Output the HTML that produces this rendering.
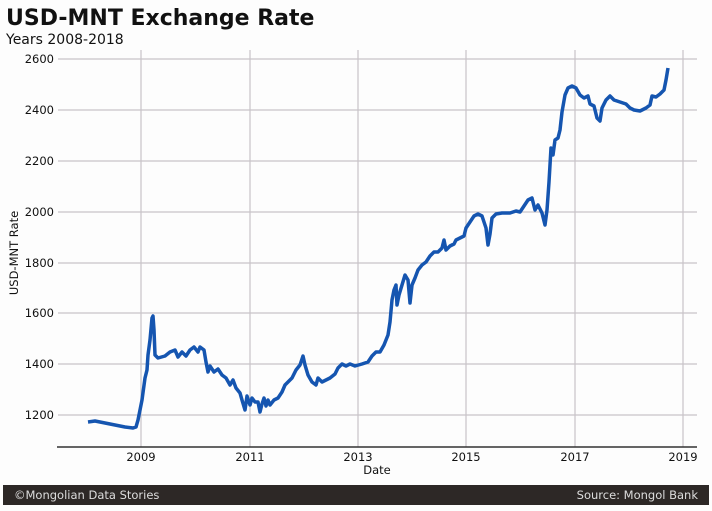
<!DOCTYPE html><html><head><style>body{margin:0;background:#fdfdfd;width:712px;height:507px;overflow:hidden;font-family:"DejaVu Sans","Liberation Sans",sans-serif}</style></head><body>
<svg width="712" height="507" xmlns="http://www.w3.org/2000/svg" font-family="DejaVu Sans, Liberation Sans, sans-serif">
<rect width="712" height="507" fill="#fdfdfd"/>
<text x="6" y="25" font-size="22" font-weight="bold" fill="#111">USD-MNT Exchange Rate</text>
<text x="6" y="44" font-size="14" fill="#111">Years 2008-2018</text>
<g stroke="#c8c4c8" stroke-width="1.2">
<line x1="58" x2="697" y1="59" y2="59"/><line x1="58" x2="697" y1="110" y2="110"/><line x1="58" x2="697" y1="161" y2="161"/><line x1="58" x2="697" y1="212" y2="212"/><line x1="58" x2="697" y1="263" y2="263"/><line x1="58" x2="697" y1="313" y2="313"/><line x1="58" x2="697" y1="364" y2="364"/><line x1="58" x2="697" y1="415" y2="415"/>
<line x1="141" x2="141" y1="50" y2="447"/><line x1="250" x2="250" y1="50" y2="447"/><line x1="358" x2="358" y1="50" y2="447"/><line x1="466" x2="466" y1="50" y2="447"/><line x1="575" x2="575" y1="50" y2="447"/><line x1="683" x2="683" y1="50" y2="447"/>
</g>
<line x1="57" x2="697" y1="447" y2="447" stroke="#333" stroke-width="1.5"/>
<g font-size="11.5" fill="#111" text-anchor="end">
<text x="54" y="63">2600</text><text x="54" y="114">2400</text><text x="54" y="165">2200</text><text x="54" y="216">2000</text><text x="54" y="267">1800</text><text x="54" y="317">1600</text><text x="54" y="368">1400</text><text x="54" y="419">1200</text>
</g>
<g font-size="11.5" fill="#111" text-anchor="middle">
<text x="141" y="461">2009</text><text x="250" y="461">2011</text><text x="358" y="461">2013</text><text x="466" y="461">2015</text><text x="575" y="461">2017</text><text x="683" y="461">2019</text>
<text x="377" y="474">Date</text>
</g>
<text transform="translate(18,253) rotate(-90)" font-size="11.5" fill="#111" text-anchor="middle">USD-MNT Rate</text>
<polyline fill="none" stroke="#1555b0" stroke-width="3.5" stroke-linejoin="round" points="88,422 95,421 100,422 110,424 125,427 133,428 136,427 138,420 140,410 142,400 145,378 147,370 148,355 150,340 152,318 153,316 154,330 155,355 158,358 165,356 170,352 175,350 178,357 182,352 186,356 190,350 194,347 198,352 200,347 204,350 206,362 208,372 210,366 214,372 218,369 222,375 226,378 230,385 233,380 236,388 240,393 242,400 245,410 247,396 250,405 252,398 255,402 258,402 260,412 262,404 264,398 266,406 268,400 270,405 274,400 278,398 282,392 285,385 288,382 292,378 296,370 300,365 303,356 305,365 308,375 312,382 316,385 318,378 322,382 326,380 330,378 335,374 338,368 342,364 346,366 350,364 355,366 362,364 368,362 372,356 376,352 380,352 384,345 388,335 390,322 392,300 394,290 396,285 397,305 399,295 402,285 405,275 408,280 410,303 412,285 415,278 418,270 422,265 426,262 430,256 434,252 438,252 442,248 444,240 446,250 450,246 454,244 456,240 460,238 464,236 466,228 470,222 474,216 478,214 482,216 486,228 488,245 490,234 492,218 496,214 502,213 510,213 516,211 520,212 524,206 528,200 532,198 535,210 538,205 542,213 545,225 547,210 549,182 551,148 553,155 555,140 558,138 560,130 562,112 565,95 568,88 572,86 576,88 580,95 584,98 588,96 590,104 594,106 597,118 600,121 602,108 606,100 610,96 614,100 620,102 626,104 630,108 634,110 640,111 646,108 650,105 652,96 656,97 660,94 664,90 666,80 668,68"/>
<rect x="3" y="485" width="706" height="20" fill="#2d2826"/>
<text x="14" y="499" font-size="11.5" fill="#ddd">©Mongolian Data Stories</text>
<text x="698" y="499" font-size="11.5" fill="#ddd" text-anchor="end">Source: Mongol Bank</text>
</svg></body></html>
